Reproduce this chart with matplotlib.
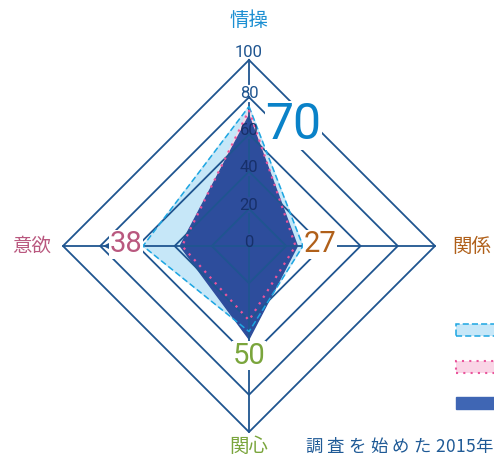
import numpy as np
import matplotlib.pyplot as plt
from matplotlib.patches import Rectangle

plt.rcParams['font.family'] = ['Noto Sans CJK JP', 'DejaVu Sans']

axes_names = ['情操', '関係', '関心', '意欲']
axis_colors = ['#1c8fd2', '#b0601a', '#7aa53c', '#b9587f']
angles = np.deg2rad([90, 0, -90, 180])

levels = [0, 20, 40, 60, 80, 100]

first_survey = [75, 29, 46, 57]
middle_survey = [73, 25, 40, 36]
latest_survey = [70, 26, 50, 37]
latest_labels = ['70', '27', '50', '38']

note_text = '調査を始めた2015年'

grid_col = '#1f5590'
num_font = ['Liberation Sans Narrow', 'Roboto', 'DejaVu Sans']

def to_xy(vals):
    vals = np.asarray(vals, dtype=float)
    x = vals * np.cos(angles)
    y = vals * np.sin(angles)
    return np.append(x, x[0]), np.append(y, y[0])

fig = plt.figure(figsize=(4.94, 4.59), dpi=100)
ax = fig.add_axes([0, 0, 1, 1])
scale = 1.86  # pixels per unit
ax.set_xlim(-249 / scale, (494 - 249) / scale)
ax.set_ylim(-213 / scale, 246 / scale)
ax.axis('off')

# fills
x, y = to_xy(first_survey)
ax.fill(x, y, color='#c6e7f8', zorder=1)
x, y = to_xy(middle_survey)
ax.fill(x, y, color='#fad5e6', zorder=2)
x, y = to_xy(latest_survey)
ax.fill(x, y, color='#2d4d9c', zorder=3)

# grid rings
for lv in levels[1:]:
    x, y = to_xy([lv] * 4)
    ax.plot(x, y, color=grid_col, lw=1.3, zorder=4)

# spokes (top spoke broken around the tick labels)
for a in angles[1:]:
    ax.plot([0, 100 * np.cos(a)], [0, 100 * np.sin(a)], color=grid_col, lw=1.3, zorder=4)
lab_pos = [lv + 2 for lv in levels[:-1]] + [104]
for i in range(len(levels) - 1):
    lo = lab_pos[i] + 5
    hi = min(lab_pos[i + 1] - 5, 100)
    ax.plot([0, 0], [lo, hi], color=grid_col, lw=1.3, zorder=4)
for lv, p in zip(levels, lab_pos):
    ax.text(0, p, str(lv), ha='center', va='center', fontsize=12,
            color=grid_col if lv >= 80 else '#17306a', family=num_font, zorder=6)

# outlines
x, y = to_xy(first_survey)
ax.plot(x, y, color='#1da6e2', lw=1.1, ls=(0, (4, 2)), zorder=5)
x, y = to_xy(middle_survey)
ax.plot(x, y, color='#ea559c', lw=1.6, ls=(0, (1, 2.5)), zorder=5)

# arrow on 意欲 axis
ax.annotate('', xy=(-80, 0), xytext=(-74, 0),
            arrowprops=dict(arrowstyle='->', color=grid_col, lw=1.3), zorder=5)

# axis names
name_pos = [(0, 121), (120, 0), (0, -108), (-117, 0)]
for name, col, (px, py) in zip(axes_names, axis_colors, name_pos):
    ax.text(px, py, name, ha='center', va='center', fontsize=14, color=col, zorder=6)

# value labels of the latest survey
val_pos = [(24, 65), (38, 1), (0, -59), (-66, 1)]
val_size = [36, 21, 21, 21]
val_colors = ['#0a82c8', '#b0601a', '#7aa53c', '#b9587f']
for txt, col, sz, (px, py) in zip(latest_labels, val_colors, val_size, val_pos):
    ax.text(px, py, txt, ha='center', va='center', fontsize=sz, color=col,
            family=num_font, zorder=7,
            bbox=dict(facecolor='white', edgecolor='none', pad=0.5))

# legend keys (labels fall outside the picture)
key_styles = [
    dict(facecolor='#c6e7f8', edgecolor='#1da6e2', ls=(0, (4, 2)), lw=1.1),
    dict(facecolor='#fad5e6', edgecolor='#ea559c', ls=(0, (1, 2.5)), lw=1.5),
    dict(facecolor='#3f66b4', edgecolor='#3f66b4', lw=1.0),
]
key_y = [330, 367, 403]
for st, ky in zip(key_styles, key_y):
    fig.patches.append(Rectangle((456 / 494, (459 - ky - 6) / 459), 60 / 494, 12 / 459,
                                 transform=fig.transFigure, **st))

# note text with wide letter spacing
px = 305
for ch in note_text:
    fig.text(px / 494, 1 - 447 / 459, ch, ha='left', va='center',
             fontsize=12.5, color='#1f5a96')
    px += 10 if ch.isdigit() else 21.7

fig.savefig('out.png', dpi=100)
